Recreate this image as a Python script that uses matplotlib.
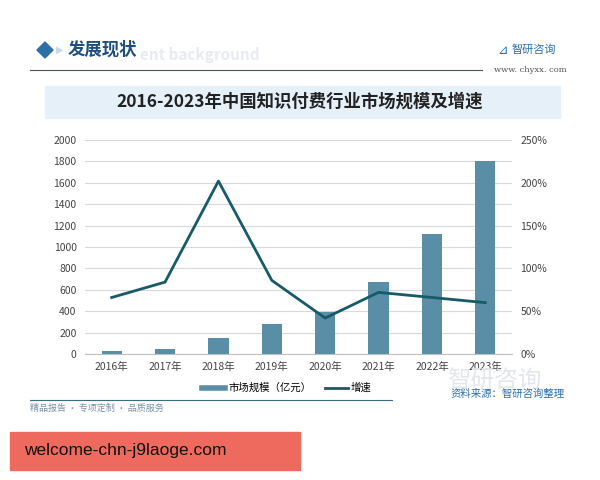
import matplotlib
matplotlib.use("Agg")
from matplotlib import pyplot as plt
from matplotlib.patches import Rectangle, Polygon
from matplotlib.lines import Line2D

plt.rcParams['font.family'] = ['Noto Sans CJK SC', 'DejaVu Sans']
plt.rcParams['axes.unicode_minus'] = False

# 數據
years = ['2016年', '2017年', '2018年', '2019年', '2020年', '2021年', '2022年', '2023年']
market_size = [25, 48, 148, 280, 390, 672, 1126, 1800]     # 市场规模（亿元）
growth = [66, 84, 202, 86, 42, 72, 66, 60]                   # 增速 (%)

bar_color = '#5a8ea6'
line_color = '#175a68'
W, H = 600, 480

fig = plt.figure(figsize=(6, 4.8), dpi=100)
fig.patch.set_facecolor('white')


def fx(x):
    return x / W


def fy(y):
    return 1 - y / H


# 頁首
fig.add_artist(Polygon([(fx(37), fy(50)), (fx(45), fy(42)), (fx(53), fy(50)), (fx(45), fy(58))],
                       closed=True, color='#2e6fa8', transform=fig.transFigure))
fig.text(fx(56), fy(50), '▶', color='#c9d9ea', fontsize=7, va='center', family=['DejaVu Sans'])
fig.text(fx(68), fy(50), '发展现状', fontsize=12.5, color='#1f4f80', va='center', weight='bold')
fig.text(fx(140), fy(55), 'ent background', fontsize=11, color='#e8ebf0', va='center', weight='bold')
fig.add_artist(Line2D([fx(30), fx(482)], [fy(70), fy(70)], color='#4a5560', lw=0.8))
fig.text(fx(497), fy(50), '⊿', fontsize=9, color='#2e6fa8', va='center', family=['DejaVu Sans'])
fig.text(fx(512), fy(50), '智研咨询', fontsize=8, color='#2e6fa8', va='center')
fig.text(fx(494), fy(70), 'www. chyxx. com', fontsize=6, color='#555555', va='center',
         family=['DejaVu Serif'])

# 標題
fig.add_artist(Rectangle((fx(45), fy(118)), fx(515), 32 / H, color='#e6f0f8',
                         transform=fig.transFigure, zorder=0))
fig.text(0.5, fy(102), '2016-2023年中国知识付费行业市场规模及增速', fontsize=12.5,
         weight='bold', color='#222222', ha='center', va='center')

# 浮水印 logo（在圖表後面）
fig.text(fx(447), fy(381), '智研咨询', fontsize=17, color='#e3e6ea', va='center', zorder=0)

# 主圖
ax = fig.add_axes([fx(85), fy(354), fx(427), 214 / H])
ax.patch.set_alpha(0)
x = range(len(years))
ax.bar(x, market_size, width=0.38, color=bar_color, zorder=2, label='市场规模（亿元）')
ax.set_xlim(-0.5, len(years) - 0.5)
ax.set_ylim(0, 2000)
ax.set_yticks(range(0, 2001, 200))
ax.set_xticks(list(x))
ax.set_xticklabels(years)
ax.grid(axis='y', color='#d9d9d9', lw=0.8, zorder=0)
for s in ['top', 'right', 'left']:
    ax.spines[s].set_visible(False)
ax.spines['bottom'].set_color('#bfbfbf')
ax.tick_params(length=0, labelsize=7.5, colors='#444444', pad=6)

ax2 = ax.twinx()
ax2.plot(x, growth, color=line_color, lw=2, zorder=3, label='增速')
ax2.set_ylim(0, 250)
ax2.set_yticks(range(0, 251, 50))
ax2.set_yticklabels([f'{v}%' for v in range(0, 251, 50)])
for s in ['top', 'right', 'left', 'bottom']:
    ax2.spines[s].set_visible(False)
ax2.tick_params(length=0, labelsize=7.5, colors='#444444', pad=6)

# 圖例
handles = [Line2D([0], [0], color=bar_color, lw=4), Line2D([0], [0], color=line_color, lw=2)]
fig.legend(handles, ['市场规模（亿元）', '增速'], loc='center', bbox_to_anchor=(fx(287), fy(388)),
           ncol=2, frameon=False, fontsize=7.5, handlelength=2.2, handletextpad=0.3,
           columnspacing=1.3)

# 頁尾
fig.add_artist(Line2D([fx(30), fx(392)], [fy(400), fy(400)], color='#3d6a80', lw=0.8))
fig.text(fx(565), fy(394), '资料来源：智研咨询整理', fontsize=7.5, color='#2e6fa8',
         ha='right', va='center')
fig.text(fx(30), fy(408), '精品报告 · 专项定制 · 品质服务', fontsize=6.5, color='#7890a8', va='center')

fig.add_artist(Rectangle((fx(10), fy(470)), fx(290), 38 / H, color='#ef6a5e',
                         transform=fig.transFigure, zorder=5))
fig.text(fx(24), fy(451), 'welcome-chn-j9laoge.com', fontsize=12.5, color='#111111',
         va='center', family=['Liberation Sans'], zorder=6)

fig.savefig('out.png', dpi=100)
